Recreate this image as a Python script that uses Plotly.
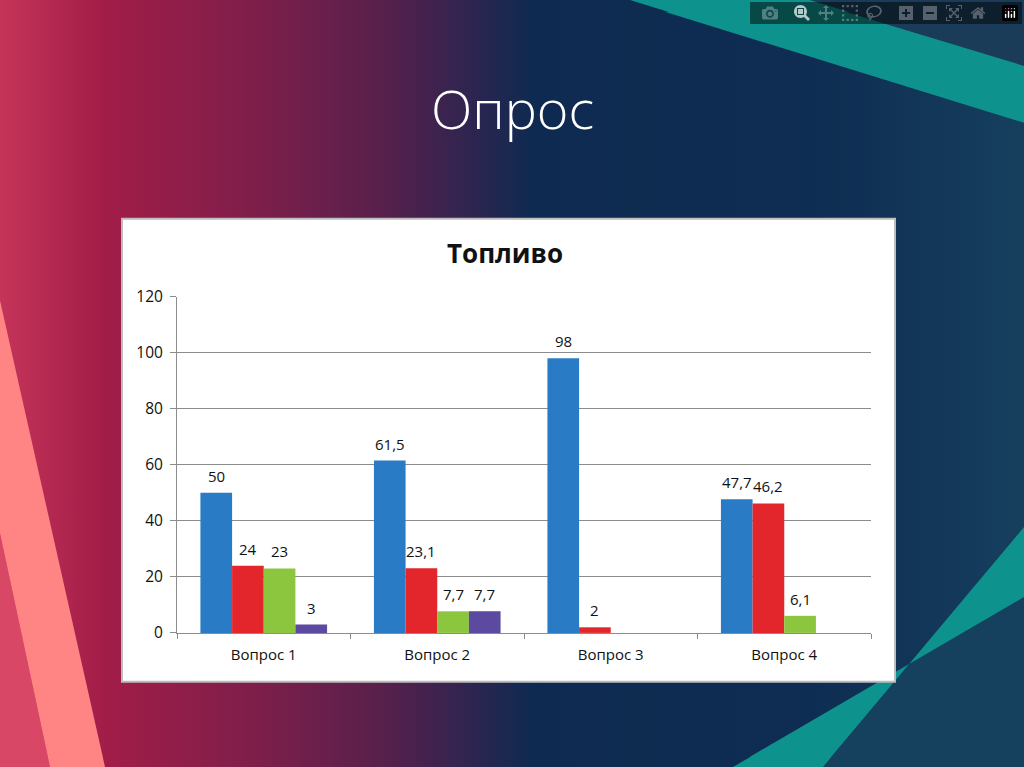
import base64
import plotly.graph_objects as go

# ---- data ----
categories = ["Вопрос 1", "Вопрос 2", "Вопрос 3", "Вопрос 4"]
series_names = ["Ряд 1", "Ряд 2", "Ряд 3", "Ряд 4"]
series1 = [50, 61.5, 98, 47.7]
series2 = [24, 23.1, 2, 46.2]
series3 = [23, 7.7, None, 6.1]
series4 = [3, 7.7, None, None]
y_ticks = [0, 20, 40, 60, 80, 100, 120]
slide_title = "Опрос"
chart_title = "Топливо"

colors = ["#2A7BC6", "#E3262B", "#8CC63F", "#5B4A9F"]

W, H = 1024, 767           # slide / figure size
# the page is framed a little taller than the figure: slide_y = OFF + SC * figure_y
OFF, SC = 11.0, 0.973
BARGAP = 0.27
X0, X1 = 177, 871          # plot area (slide px)
Y_TOP, Y_BOT = 296, 633


def px_x(x):
    return x / W


def px_y(y):
    fy = (y - OFF) / SC
    return (H - fy) / H


def slide_svg(vb_y, vb_h, out_h):
    return f"""<svg xmlns='http://www.w3.org/2000/svg' width='{W}' height='{out_h:.1f}' viewBox='0 {vb_y:.2f} {W} {vb_h:.2f}' preserveAspectRatio='none'>
<defs>
<linearGradient id='g' gradientUnits='userSpaceOnUse' x1='0' y1='0' x2='{W}' y2='0'>
<stop offset='0' stop-color='#C53459'/>
<stop offset='0.1' stop-color='#A21D48'/>
<stop offset='0.25' stop-color='#7E1E4A'/>
<stop offset='0.38' stop-color='#55204C'/>
<stop offset='0.46' stop-color='#2E2550'/>
<stop offset='0.52' stop-color='#0E2A50'/>
<stop offset='0.8' stop-color='#0E2D52'/>
<stop offset='1' stop-color='#163F5E'/>
</linearGradient>
</defs>
<rect x='0' y='0' width='{W}' height='{H}' fill='url(#g)'/>
<polygon points='810,0 1024,0 1024,65' fill='#1B3C58'/>
<polygon points='630,0 810,0 1024,65 1024,122' fill='#0E928E'/>
<polygon points='823,767 1024,527 1024,767' fill='#15405E'/>
<polygon points='733,767 823,767 1024,527 1024,597' fill='#0E928E'/>
<polygon points='0,533 50,767 0,767' fill='#D84866'/>
<polygon points='0,300 105,767 50,767 0,533' fill='#FF8585'/>
</svg>"""


def to_uri(s):
    return "data:image/svg+xml;base64," + base64.b64encode(s.encode("utf-8")).decode("ascii")


fig_bg_uri = to_uri(slide_svg(OFF, H * SC, H))
page_bg_uri = to_uri(slide_svg(0, H, H))

all_series = [series1, series2, series3, series4]
n_series = len(all_series)
bar_w = (X1 - X0) / len(categories) * (1 - BARGAP) / n_series

fig = go.Figure()
annotations = []
for i, (name, vals, col) in enumerate(zip(series_names, all_series, colors)):
    fig.add_trace(go.Bar(
        x=categories, y=vals, name=name,
        marker=dict(color=col, line=dict(width=0)),
        hoverinfo="x+y",
    ))
    for cat, v in zip(categories, vals):
        if v is None:
            continue
        annotations.append(dict(
            x=cat, y=v, xref="x", yref="y",
            text=f"{v:g}".replace(".", ","),
            showarrow=False, xanchor="center", yanchor="bottom",
            xshift=(i - (n_series - 1) / 2) * bar_w, yshift=5,
            font=dict(family="Open Sans", size=15, color="#111111"),
        ))

annotations += [
    dict(text=slide_title, xref="paper", yref="paper", x=0.5, y=px_y(107),
         xanchor="center", yanchor="middle", showarrow=False,
         font=dict(family="Open Sans", size=54, color="white", weight=300)),
    dict(text="<b>" + chart_title + "</b>", xref="paper", yref="paper",
         x=px_x(505), y=px_y(252), xanchor="center", yanchor="middle",
         showarrow=False,
         font=dict(family="Open Sans", size=26, color="#111111")),
]

fig.update_layout(
    width=W, height=H,
    margin=dict(l=0, r=0, t=0, b=0),
    paper_bgcolor="rgba(0,0,0,0)",
    plot_bgcolor="rgba(0,0,0,0)",
    showlegend=False,
    barmode="group",
    bargap=BARGAP,
    bargroupgap=0,
    images=[dict(source=fig_bg_uri, xref="paper", yref="paper", x=0, y=1,
                 sizex=1, sizey=1, sizing="stretch", layer="below",
                 xanchor="left", yanchor="top")],
    shapes=[dict(type="rect", xref="paper", yref="paper",
                 x0=px_x(122), x1=px_x(895), y0=px_y(682), y1=px_y(218),
                 fillcolor="white", line=dict(color="#BDBDBD", width=2),
                 layer="below")],
    xaxis=dict(
        domain=[px_x(X0), px_x(X1)],
        showline=True, linecolor="#8C8C8C", linewidth=1,
        ticks="outside", tickson="boundaries", ticklen=5, tickcolor="#8C8C8C",
        ticklabelstandoff=8,
        showgrid=False,
        tickfont=dict(family="Open Sans", size=15, color="#111111"),
    ),
    yaxis=dict(
        domain=[px_y(Y_BOT), px_y(Y_TOP)],
        range=[0, 120],
        tickvals=y_ticks,
        showline=True, linecolor="#8C8C8C", linewidth=1,
        ticks="outside", ticklen=6, tickcolor="#8C8C8C",
        ticklabelstandoff=4,
        showgrid=True, gridcolor="#8C8C8C", gridwidth=1,
        zeroline=False,
        tickfont=dict(family="Open Sans", size=15.5, color="#111111"),
    ),
    annotations=annotations,
)

fig.write_html(
    "out.html",
    post_script=("document.body.style.margin='0';"
                 "document.body.style.overflow='hidden';"
                 "document.body.style.background='transparent';"
                 "var r=document.documentElement;"
                 "r.style.minHeight='100%';"
                 "r.style.background=\"url('" + page_bg_uri + "') 0 0 / 100% 100% no-repeat\";"),
)
